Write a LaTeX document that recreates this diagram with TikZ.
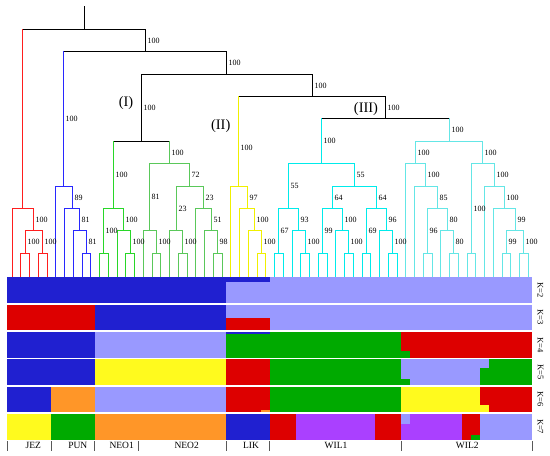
\documentclass[tikz,border=0pt]{standalone}
\usepackage{fontspec}
\setmainfont{Liberation Serif}
\definecolor{cK}{RGB}{0,0,0}
\definecolor{cR}{RGB}{255,30,30}
\definecolor{cB}{RGB}{40,40,255}
\definecolor{cG}{RGB}{40,215,40}
\definecolor{cH}{RGB}{90,200,90}
\definecolor{cY}{RGB}{240,240,0}
\definecolor{cC}{RGB}{0,235,235}
\definecolor{cD}{RGB}{100,230,230}
\definecolor{barB}{RGB}{32,32,208}
\definecolor{barL}{RGB}{153,153,255}
\definecolor{barR}{RGB}{221,0,0}
\definecolor{barG}{RGB}{0,170,0}
\definecolor{barY}{RGB}{255,250,30}
\definecolor{barO}{RGB}{255,150,40}
\definecolor{barP}{RGB}{170,64,255}
\newcommand\cp[3]{\coordinate (#1) at ({floor(#2)+0.5},{floor(#3)+0.5});}
\newcommand\J[4]{\draw[#1] (#3) |- (#2) -| (#4);}
\newcommand\T[5]{\draw[cK] (#2 |- #1) -- (#3 |- #1);
  \draw[#4] (#2) -- (#2 |- #1); \draw[#5] (#3) -- (#3 |- #1);}
\newcommand\lab[3]{\path (#1) -- node[bs] (t#1) {#3} (#1 |- #2);}
\newcommand\seg[5]{\fill[#1] (#2,#3) rectangle (#4,#5);}
\begin{document}
\begin{tikzpicture}[x=1pt,y=-1pt,line width=1.7pt,line join=miter,line cap=rect,
  bs/.style={font=\fontsize{8}{9}\selectfont,anchor=west,inner sep=0.4pt,xshift=0.8pt},
  rn/.style={font=\fontsize{14.5}{16}\selectfont,inner sep=0pt},
  kl/.style={font=\fontsize{8.5}{10}\selectfont,rotate=-90,inner sep=0pt},
  gl/.style={font=\fontsize{9.5}{11}\selectfont,inner sep=0pt},
  tick/.style={draw=black!65,line width=0.8pt,line cap=butt}]
\useasboundingbox (0,0) rectangle (550,456);
% leaves
\foreach \i in {0,...,59} \coordinate (l\i) at ({floor(12+8.75*\i)+0.5},278);
% internal nodes
\cp{top}{84.2}{6.7}
\cp{root}{84.2}{29.3}
\cp{A}{145.46}{51.7}
\cp{B}{226.98}{74.1}
\cp{C}{312.2}{96.5}
\cp{III}{385.45}{118.9}
\cp{I}{141.75}{141.3}
\cp{r1}{22.94}{208.5}
\cp{r2}{33.875}{230.9}
\cp{r3}{25.125}{253.3}
\cp{r4}{42.625}{253.3}
\cp{b1}{63.95}{186.1}
\cp{b2}{72.16}{208.5}
\cp{b3}{79.81}{230.9}
\cp{b4}{86.375}{253.3}
\cp{g1}{113.72}{208.5}
\cp{g2}{103.875}{253.3}
\cp{g3}{123.56}{230.9}
\cp{g4}{130.125}{253.3}
\cp{h1}{169.77}{163.7}
\cp{h2}{149.81}{230.9}
\cp{h3}{156.375}{253.3}
\cp{h4}{189.73}{186.1}
\cp{h5}{176.06}{230.9}
\cp{h6}{182.625}{253.3}
\cp{h7}{203.41}{208.5}
\cp{h8}{211.06}{230.9}
\cp{h9}{217.625}{253.3}
\cp{y1}{238.95}{186.1}
\cp{y2}{247.16}{208.5}
\cp{y3}{254.81}{230.9}
\cp{y4}{261.375}{253.3}
\cp{w1}{321.53}{163.7}
\cp{w2}{288.72}{208.5}
\cp{w3}{278.875}{253.3}
\cp{w4}{298.56}{230.9}
\cp{w5}{305.125}{253.3}
\cp{w6}{354.34}{186.1}
\cp{w7}{332.47}{208.5}
\cp{w8}{322.625}{253.3}
\cp{w9}{342.31}{230.9}
\cp{w10}{348.875}{253.3}
\cp{w11}{376.22}{208.5}
\cp{w12}{366.375}{253.3}
\cp{w13}{386.06}{230.9}
\cp{w14}{392.625}{253.3}
\cp{v1}{449.36}{141.3}
\cp{v2}{415.87}{163.7}
\cp{v3}{425.98}{186.1}
\cp{v4}{437.47}{208.5}
\cp{v5}{427.625}{253.3}
\cp{v6}{447.31}{230.9}
\cp{v7}{453.875}{253.3}
\cp{v8}{482.86}{163.7}
\cp{v9}{471.375}{253.3}
\cp{v10}{494.34}{186.1}
\cp{v11}{504.19}{208.5}
\cp{v12}{515.125}{230.9}
\cp{v13}{506.375}{253.3}
\cp{v14}{523.875}{253.3}
% backbone
\draw[cK] (root) -- (top);
\T{root}{r1}{A}{cR}{cK}
\T{A}{b1}{B}{cB}{cK}
\T{B}{I}{C}{cK}{cK}
\T{C}{y1}{III}{cY}{cK}
\T{III}{w1}{v1}{cC}{cD}
\T{I}{g1}{h1}{cG}{cH}
% JEZ
\J{cR}{r1}{l0}{r2} \J{cR}{r2}{r3}{r4} \J{cR}{r3}{l1}{l2} \J{cR}{r4}{l3}{l4}
% PUN
\J{cB}{b1}{l5}{b2} \J{cB}{b2}{l6}{b3} \J{cB}{b3}{l7}{b4} \J{cB}{b4}{l8}{l9}
% NEO1
\J{cG}{g1}{g2}{g3} \J{cG}{g2}{l10}{l11} \J{cG}{g3}{l12}{g4} \J{cG}{g4}{l13}{l14}
% NEO2
\J{cH}{h1}{h2}{h4} \J{cH}{h2}{l15}{h3} \J{cH}{h3}{l16}{l17}
\J{cH}{h4}{h5}{h7} \J{cH}{h5}{l18}{h6} \J{cH}{h6}{l19}{l20}
\J{cH}{h7}{l21}{h8} \J{cH}{h8}{l22}{h9} \J{cH}{h9}{l23}{l24}
% LIK
\J{cY}{y1}{l25}{y2} \J{cY}{y2}{l26}{y3} \J{cY}{y3}{l27}{y4} \J{cY}{y4}{l28}{l29}
% WIL1
\J{cC}{w1}{w2}{w6} \J{cC}{w2}{w3}{w4} \J{cC}{w3}{l30}{l31} \J{cC}{w4}{l32}{w5}
\J{cC}{w5}{l33}{l34} \J{cC}{w6}{w7}{w11} \J{cC}{w7}{w8}{w9} \J{cC}{w8}{l35}{l36}
\J{cC}{w9}{l37}{w10} \J{cC}{w10}{l38}{l39} \J{cC}{w11}{w12}{w13} \J{cC}{w12}{l40}{l41}
\J{cC}{w13}{l42}{w14} \J{cC}{w14}{l43}{l44}
% WIL2
\J{cD}{v1}{v2}{v8} \J{cD}{v2}{l45}{v3} \J{cD}{v3}{l46}{v4} \J{cD}{v4}{v5}{v6}
\J{cD}{v5}{l47}{l48} \J{cD}{v6}{l49}{v7} \J{cD}{v7}{l50}{l51} \J{cD}{v8}{v9}{v10}
\J{cD}{v9}{l52}{l53} \J{cD}{v10}{l54}{v11} \J{cD}{v11}{l55}{v12} \J{cD}{v12}{v13}{v14}
\J{cD}{v13}{l56}{l57} \J{cD}{v14}{l58}{l59}
% support labels
\lab{A}{root}{100} \lab{B}{A}{100} \lab{C}{B}{100} \lab{b1}{A}{100}
\lab{I}{B}{100} \lab{III}{C}{100} \lab{w1}{III}{100} \lab{v1}{III}{100}
\lab{g1}{I}{100} \lab{h1}{I}{100}
\path (y1) -- node[bs,pos=0.43] (ty1) {100} (y1 |- C);
\lab{r2}{r1}{100} \lab{r3}{r2}{100} \lab{r4}{r2}{100}
\lab{b2}{b1}{89} \lab{b3}{b2}{81} \lab{b4}{b3}{81}
\lab{g2}{g1}{100} \lab{g3}{g1}{100} \lab{g4}{g3}{100}
\lab{h2}{h1}{81} \lab{h3}{h2}{100} \lab{h4}{h1}{72} \lab{h5}{h4}{23}
\lab{h6}{h5}{100} \lab{h7}{h4}{23} \lab{h8}{h7}{51} \lab{h9}{h8}{98}
\lab{y2}{y1}{97} \lab{y3}{y2}{100} \lab{y4}{y3}{100}
\lab{w2}{w1}{55} \lab{w3}{w2}{67} \lab{w4}{w2}{93} \lab{w5}{w4}{100}
\lab{w6}{w1}{55} \lab{w7}{w6}{64} \lab{w8}{w7}{99} \lab{w9}{w7}{100}
\lab{w10}{w9}{100} \lab{w11}{w6}{64} \lab{w12}{w11}{69} \lab{w13}{w11}{96}
\lab{w14}{w13}{100}
\lab{v2}{v1}{100} \lab{v3}{v2}{100} \lab{v4}{v3}{85} \lab{v5}{v4}{96}
\lab{v6}{v4}{80} \lab{v7}{v6}{80} \lab{v8}{v1}{100} \lab{v9}{v8}{100}
\lab{v10}{v8}{100} \lab{v11}{v10}{100} \lab{v12}{v11}{99} \lab{v13}{v12}{99}
\lab{v14}{v12}{100}
% clade names
\node[rn] (nI) at (126,103.3) {(I)};
\node[rn] (nII) at (220.7,126) {(II)};
\node[rn] (nIII) at (366,109.3) {(III)};
% K=2
\seg{barB}{7.3}{277.3}{226.05}{303.0}
\seg{barL}{226.05}{277.3}{532.3}{303.0}
\seg{barB}{226.05}{277.3}{269.8}{281.6}
% K=3
\seg{barR}{7.3}{304.6}{94.8}{330.3}
\seg{barB}{94.8}{304.6}{226.05}{330.3}
\seg{barL}{226.05}{304.6}{532.3}{330.3}
\seg{barR}{226.05}{318.3}{269.8}{330.3}
% K=4
\seg{barB}{7.3}{331.9}{94.8}{357.6}
\seg{barL}{94.8}{331.9}{226.05}{357.6}
\seg{barG}{226.05}{331.9}{401.05}{357.6}
\seg{barB}{226.05}{331.9}{269.8}{333.9}
\seg{barR}{401.05}{331.9}{532.3}{357.6}
\seg{barG}{401.05}{351.2}{409.8}{357.6}
% K=5
\seg{barB}{7.3}{359.2}{94.8}{384.9}
\seg{barY}{94.8}{359.2}{226.05}{384.9}
\seg{barR}{226.05}{359.2}{269.8}{384.9}
\seg{barG}{269.8}{359.2}{401.05}{384.9}
\seg{barL}{401.05}{359.2}{488.55}{384.9}
\seg{barG}{401.05}{379}{409.8}{384.9}
\seg{barG}{479.8}{367.7}{488.55}{384.9}
\seg{barG}{488.55}{359.2}{532.3}{384.9}
% K=6
\seg{barB}{7.3}{386.5}{51.05}{412.2}
\seg{barO}{51.05}{386.5}{94.8}{412.2}
\seg{barL}{94.8}{386.5}{226.05}{412.2}
\seg{barR}{226.05}{386.5}{269.8}{412.2}
\seg{barO}{261.05}{409.9}{269.8}{412.2}
\seg{barG}{269.8}{386.5}{401.05}{412.2}
\seg{barY}{401.05}{386.5}{488.55}{412.2}
\seg{barR}{479.8}{386.5}{488.55}{405}
\seg{barR}{488.55}{386.5}{532.3}{412.2}
% K=7
\seg{barY}{7.3}{413.8}{51.05}{439.5}
\seg{barG}{51.05}{413.8}{94.8}{439.5}
\seg{barO}{94.8}{413.8}{226.05}{439.5}
\seg{barB}{226.05}{413.8}{269.8}{439.5}
\seg{barR}{269.8}{413.8}{296.05}{439.5}
\seg{barP}{296.05}{413.8}{374.8}{439.5}
\seg{barR}{374.8}{413.8}{401.05}{439.5}
\seg{barP}{401.05}{413.8}{462.3}{439.5}
\seg{barL}{401.05}{413.8}{409.8}{424.3}
\seg{barR}{462.3}{413.8}{479.8}{439.5}
\seg{barG}{471.05}{434.8}{479.8}{439.5}
\seg{barL}{479.8}{413.8}{532.3}{439.5}
% K labels
\node[kl] (k2) at (540.5,290.1) {K=2};
\node[kl] (k3) at (540.5,317.4) {K=3};
\node[kl] (k4) at (540.5,344.7) {K=4};
\node[kl] (k5) at (540.5,372.0) {K=5};
\node[kl] (k6) at (540.5,399.3) {K=6};
\node[kl] (k7) at (540.5,426.6) {K=7};
% group ticks and names
\foreach \x in {7.5,51.5,94.5,138.5,226.5,269.5,401.5,532.5}
  \draw[tick] (\x,441) -- (\x,451);
\node[gl] (gJEZ) at (33.3,445.5) {JEZ};
\node[gl] (gPUN) at (77.8,445.5) {PUN};
\node[gl] (gNEO1) at (121.7,445.5) {NEO1};
\node[gl] (gNEO2) at (186.7,445.5) {NEO2};
\node[gl] (gLIK) at (251,445.5) {LIK};
\node[gl] (gWIL1) at (336,445.5) {WIL1};
\node[gl] (gWIL2) at (467.3,445.5) {WIL2};
\end{tikzpicture}
\end{document}
